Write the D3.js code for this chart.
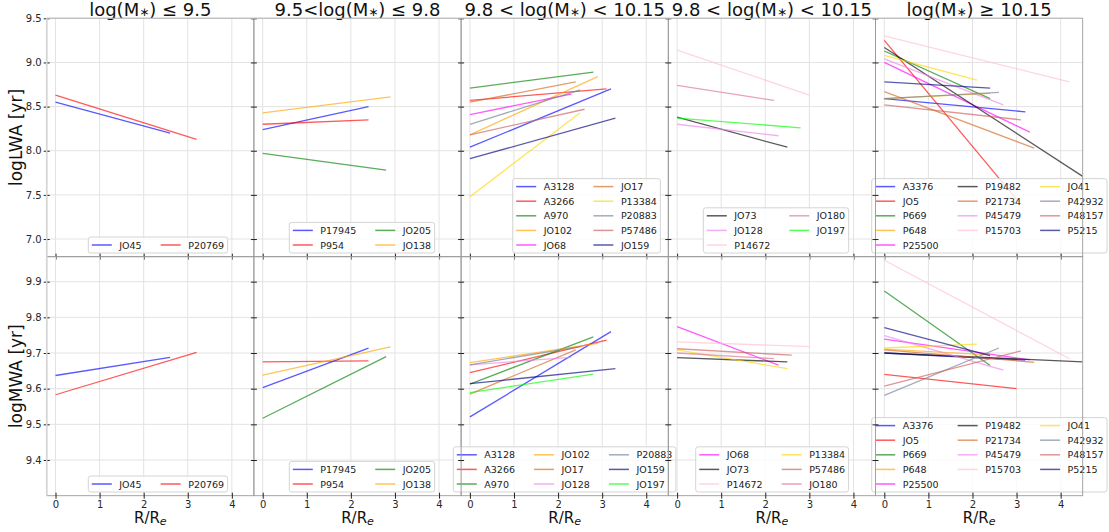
<!DOCTYPE html>
<html>
<head>
<meta charset="UTF-8">
<script src="https://d3js.org/d3.v7.min.js"></script>
<style>
	body{ margin:0; background:#fff; }
	text{ font-family:"DejaVu Sans", sans-serif; }
</style>
</head>
<body>
<svg id="chart" width="1109" height="532"></svg>
<script type="text/javascript">
// ---- data ----
var titlePre  = ["log(M", "9.5<log(M", "9.8 < log(M", "9.8 < log(M", "log(M"];
var titlePost = [") \u2264 9.5", ") \u2264 9.8", ") < 10.15", ") < 10.15", ") \u2265 10.15"];
var xTicks = [0, 1, 2, 3, 4];
var lwaTicks = [7.0, 7.5, 8.0, 8.5, 9.0, 9.5];
var mwaTicks = [9.4, 9.5, 9.6, 9.7, 9.8, 9.9];

// light weighted age: galaxies per mass bin, outer radius, value at centre, value at outer radius
var lwaNames = [
	["JO45", "P20769"],
	["P17945", "P954", "JO205", "JO138"],
	["A3128", "A3266", "A970", "JO102", "JO68", "JO17", "P13384", "P20883", "P57486", "JO159"],
	["JO73", "JO128", "P14672", "JO180", "JO197"],
	["A3376", "JO5", "P669", "P648", "P25500", "P19482", "P21734", "P45479", "P15703", "JO41", "P42932", "P48157", "P5215"]
];
var lwaR = [
	[2.6, 3.2],
	[2.4, 2.4, 2.8, 2.9],
	[3.2, 3.1, 2.8, 2.9, 2.3, 2.4, 2.5, 2.5, 2.6, 3.3],
	[2.5, 2.3, 3.0, 2.2, 2.8],
	[3.2, 3.0, 2.4, 2.4, 3.3, 4.5, 3.4, 2.7, 4.2, 2.1, 2.6, 3.1, 2.4]
];
var lwaIn = [
	[8.55, 8.63],
	[8.24, 8.30, 7.97, 8.43],
	[8.04, 8.57, 8.71, 8.18, 8.41, 8.55, 7.48, 8.30, 8.18, 7.91],
	[8.38, 8.30, 9.14, 8.74, 8.37],
	[8.59, 9.25, 9.13, 8.59, 9.00, 9.17, 8.67, 9.04, 9.30, 9.08, 8.59, 8.52, 8.78]
];
var lwaOut = [
	[8.20, 8.13],
	[8.50, 8.35, 7.78, 8.61],
	[8.70, 8.70, 8.89, 8.84, 8.64, 8.78, 8.43, 8.69, 8.47, 8.37],
	[8.04, 8.17, 8.63, 8.57, 8.26],
	[8.44, 7.45, 8.59, 8.65, 8.21, 7.71, 8.03, 8.52, 8.78, 8.80, 8.66, 8.35, 8.71]
];

// mass weighted age
var mwaNames = [
	["JO45", "P20769"],
	["P17945", "P954", "JO205", "JO138"],
	["A3128", "A3266", "A970", "JO102", "JO17", "JO128", "P20883", "JO159", "JO197"],
	["JO68", "JO73", "P14672", "P13384", "P57486", "JO180"],
	["A3376", "JO5", "P669", "P648", "P25500", "P19482", "P21734", "P45479", "P15703", "JO41", "P42932", "P48157", "P5215"]
];
var mwaR = [
	[2.6, 3.2],
	[2.4, 2.4, 2.8, 2.9],
	[3.2, 3.1, 2.8, 2.9, 2.4, 2.3, 2.5, 3.3, 2.8],
	[2.3, 2.5, 3.0, 2.5, 2.6, 2.2],
	[3.2, 3.0, 2.4, 2.4, 3.3, 4.5, 3.4, 2.7, 4.2, 2.1, 2.6, 3.1, 2.4]
];
var mwaIn = [
	[9.637, 9.583],
	[9.603, 9.675, 9.517, 9.638],
	[9.521, 9.645, 9.613, 9.673, 9.585, 9.667, 9.667, 9.614, 9.589],
	[9.774, 9.687, 9.731, 9.709, 9.712, 9.700],
	[9.700, 9.640, 9.874, 9.711, 9.739, 9.700, 9.709, 9.749, 9.960, 9.714, 9.581, 9.607, 9.771]
];
var mwaOut = [
	[9.688, 9.702],
	[9.714, 9.678, 9.690, 9.717],
	[9.760, 9.736, 9.745, 9.727, 9.709, 9.688, 9.718, 9.656, 9.641],
	[9.666, 9.675, 9.718, 9.656, 9.694, 9.684],
	[9.680, 9.600, 9.665, 9.695, 9.681, 9.675, 9.674, 9.652, 9.684, 9.725, 9.714, 9.706, 9.693]
];

var colors = {
	JO45:"blue", P20769:"red", P17945:"blue", P954:"red", JO205:"green", JO138:"orange",
	A3128:"blue", A3266:"red", A970:"green", JO102:"orange", JO68:"magenta", JO17:"chocolate",
	P13384:"gold", P20883:"slategray", P57486:"indianred", JO159:"navy",
	JO73:"black", JO128:"violet", P14672:"pink", JO180:"palevioletred", JO197:"lime",
	A3376:"blue", JO5:"red", P669:"green", P648:"orange", P25500:"magenta", P19482:"black",
	P21734:"chocolate", P45479:"violet", P15703:"pink", JO41:"gold", P42932:"slategray",
	P48157:"indianred", P5215:"navy"
};

// ---- layout ----
var left0 = 46.7, pw = 207.2;
var rowTop = [18.3, 256.7], rowBot = [256.7, 495.7];

var rows = [
	{names: lwaNames, r: lwaR, a: lwaIn, b: lwaOut, ticks: lwaTicks, dom: [6.8, 9.5],
	 label: "logLWA [yr]", ncol: [2, 2, 2, 2, 3], legX: [41.6, 35.4, 51.6, 35, -3.8]},
	{names: mwaNames, r: mwaR, a: mwaIn, b: mwaOut, ticks: mwaTicks, dom: [9.30, 9.97],
	 label: "logMWA [yr]", ncol: [2, 2, 3, 2, 3], legX: [41.6, 35.4, -7.8, 27.4, -3.8]}
];

var svg = d3.select("#chart");
var defs = svg.append("defs");

function drawLegend(g, names, ncol, x0, yBottom) {
	var padX = 3.5, padY = 3, hl = 20, gap = 7.5, cs = 19, rowH = 10, ls = 4.6;
	var n = names.length;
	var nrows = Math.floor(n / ncol), nlarge = n % ncol;
	var cols = [], k = 0;
	for (var c = 0; c < ncol; c++) {
		var cnt = nrows + (c < nlarge ? 1 : 0);
		cols.push(names.slice(k, k + cnt));
		k += cnt;
	}
	var maxRows = d3.max(cols, function(d) { return d.length; });
	var hgt = 2 * padY + maxRows * rowH + (maxRows - 1) * ls;
	var top = yBottom - hgt;
	var box = g.append("rect");
	var x = x0 + padX;
	cols.forEach(function(col) {
		var wmax = 0;
		col.forEach(function(name, i) {
			var cy = top + padY + rowH / 2 + i * (rowH + ls);
			g.append("line")
				.attr("x1", x).attr("x2", x + hl)
				.attr("y1", cy).attr("y2", cy)
				.attr("stroke", colors[name]).attr("stroke-opacity", 0.65)
				.attr("stroke-width", 1.5);
			var t = g.append("text")
				.attr("x", x + hl + gap).attr("y", cy + 3.5)
				.attr("font-size", "9.5px").attr("fill", "#222")
				.text(name);
			wmax = Math.max(wmax, t.node().getComputedTextLength());
		});
		x += hl + gap + wmax + cs;
	});
	var wid = x - cs + padX - x0;
	box.attr("x", x0).attr("y", top).attr("width", wid).attr("height", hgt)
		.attr("rx", 2.5).attr("fill", "#fff").attr("fill-opacity", 0.8)
		.attr("stroke", "#d4d4d4").attr("stroke-width", 1);
}

rows.forEach(function(row, ri) {
	var y = d3.scaleLinear().domain(row.dom).range([rowBot[ri], rowTop[ri]]);

	for (var c = 0; c < 5; c++) {
		var px = left0 + c * pw;
		var x = d3.scaleLinear().domain([-0.2, 4.5]).range([px, px + pw]);
		var g = svg.append("g");
		var cid = "clip" + ri + c;
		defs.append("clipPath").attr("id", cid).append("rect")
			.attr("x", px).attr("y", rowTop[ri]).attr("width", pw).attr("height", rowBot[ri] - rowTop[ri]);

		// grid
		g.selectAll(".gx").data(xTicks).enter().append("line")
			.attr("x1", function(d) { return x(d); }).attr("x2", function(d) { return x(d); })
			.attr("y1", rowTop[ri]).attr("y2", rowBot[ri])
			.attr("stroke", "#e3e3e3").attr("stroke-width", 1);
		g.selectAll(".gy").data(row.ticks).enter().append("line")
			.attr("x1", px).attr("x2", px + pw)
			.attr("y1", function(d) { return y(d); }).attr("y2", function(d) { return y(d); })
			.attr("stroke", "#e3e3e3").attr("stroke-width", 1);

		// gradient lines, from the centre out to the outer radius
		var segs = row.names[c].map(function(name, i) {
			return {name: name, r: row.r[c][i], a: row.a[c][i], b: row.b[c][i]};
		});
		g.append("g").attr("clip-path", "url(#" + cid + ")")
			.selectAll("line").data(segs).enter().append("line")
			.attr("x1", x(0)).attr("y1", function(d) { return y(d.a); })
			.attr("x2", function(d) { return x(d.r); }).attr("y2", function(d) { return y(d.b); })
			.attr("stroke", function(d) { return colors[d.name]; })
			.attr("stroke-opacity", 0.65).attr("stroke-width", 1.3);

		drawLegend(g, row.names[c], row.ncol[c], px + row.legX[c], rowBot[ri] - 3.7);

		// frame
		g.append("rect").attr("x", px).attr("y", rowTop[ri]).attr("width", pw).attr("height", rowBot[ri] - rowTop[ri])
			.attr("fill", "none").attr("stroke", "#9a9a9a").attr("stroke-width", 0.9);

		// y ticks (in-out)
		var yAxis = d3.axisLeft(y).tickValues(row.ticks).tickSize(6).tickPadding(2)
			.tickFormat(c === 0 ? d3.format(".1f") : "");
		var ya = g.append("g").attr("transform", "translate(" + (px + 3) + ",0)").call(yAxis);
		ya.select(".domain").remove();
		ya.selectAll("line").attr("stroke", "#222");
		ya.selectAll("text").attr("font-size", "10px").attr("fill", "#262626")
			.attr("font-family", "DejaVu Sans, sans-serif");

		// x ticks (in-out)
		var xAxis = d3.axisBottom(x).tickValues(xTicks).tickSize(6).tickPadding(2.5)
			.tickFormat(ri === 1 ? d3.format("d") : "");
		var xa = g.append("g").attr("transform", "translate(0," + (rowBot[ri] - 3) + ")").call(xAxis);
		xa.select(".domain").remove();
		xa.selectAll("line").attr("stroke", "#222");
		xa.selectAll("text").attr("font-size", "10px").attr("fill", "#262626")
			.attr("font-family", "DejaVu Sans, sans-serif");

		if (ri === 0) {
			var t = svg.append("text").attr("x", px + pw / 2).attr("y", 15.5)
				.attr("text-anchor", "middle").attr("font-size", "18px").attr("fill", "#111");
			t.append("tspan").text(titlePre[c]);
			t.append("tspan").attr("font-size", "12px").text("\u2217");
			t.append("tspan").text(titlePost[c]);
		} else {
			var xl = svg.append("text").attr("x", px + pw / 2).attr("y", 522.5)
				.attr("text-anchor", "middle").attr("font-size", "15px").attr("fill", "#111");
			xl.append("tspan").text("R/R");
			xl.append("tspan").attr("font-size", "11px").attr("font-style", "italic").attr("dy", 2.5).text("e");
		}
	}

	svg.append("text")
		.attr("transform", "translate(22," + ((rowTop[ri] + rowBot[ri]) / 2) + ") rotate(-90)")
		.attr("text-anchor", "middle").attr("font-size", "17px").attr("fill", "#111")
		.text(row.label);
});

// lighter outer spines on the top and left of the figure
svg.append("line").attr("x1", left0).attr("x2", left0 + 5 * pw).attr("y1", rowTop[0]).attr("y2", rowTop[0])
	.attr("stroke", "#c4c4c4").attr("stroke-width", 1);
svg.append("line").attr("x1", left0).attr("x2", left0).attr("y1", rowTop[0]).attr("y2", rowBot[1])
	.attr("stroke", "#d6d6d6").attr("stroke-width", 1.6);
</script>
</body>
</html>
